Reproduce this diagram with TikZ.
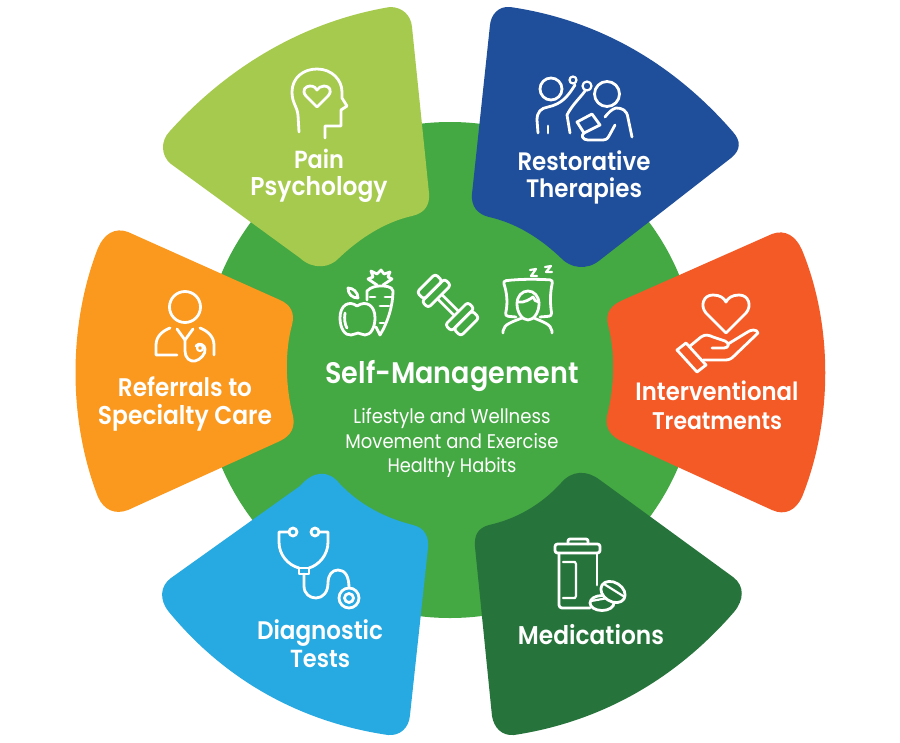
\documentclass[tikz,border=0pt]{standalone}
\usepackage{fontspec}
\setmainfont{Poppins}
\newfontfamily\hdfont{Poppins SemiBold}
\newfontfamily\subfont{Poppins}
\definecolor{cgreen}{HTML}{44A843}
\definecolor{clime}{HTML}{A6CA4E}
\definecolor{cblue}{HTML}{1F4E9A}
\definecolor{cred}{HTML}{F45A26}
\definecolor{corange}{HTML}{FB981E}
\definecolor{csky}{HTML}{27A9E1}
\definecolor{cdark}{HTML}{26743B}
\newcommand{\fitw}[2]{\scalebox{1}[1.1]{\resizebox{#1pt}{!}{#2}}}
\tikzset{
 icon/.style={draw=white,line width=2.8pt,line cap=round,line join=round},
 thin icon/.style={icon,line width=2.2pt},
 lbl/.style={text=white,inner sep=0pt,font=\hdfont\fontsize{23}{23}\selectfont,anchor=base},
 sub/.style={text=white,inner sep=0pt,font=\subfont\fontsize{18}{18}\selectfont,anchor=base}
}
\begin{document}
\begin{tikzpicture}[x=1pt,y=-1pt]
\useasboundingbox (0,0) rectangle (900,742);
\fill[white] (0,0) rectangle (900,742);
\fill[cgreen] (450,370) circle (248);
% petals
\fill[clime] (390,7) .. controls (402,7) and (411,15) .. (412,27) -- (429,193)
 .. controls (430,205) and (425,213) .. (412,216)
 .. controls (385,222) and (360,238) .. (339,258)
 .. controls (330,268) and (313,270) .. (300,258) -- (171,164)
 .. controls (161,156) and (160,141) .. (170,131)
 .. controls (225,70) and (300,22) .. (390,7) -- cycle;
\fill[cblue] (510,7) .. controls (498,6) and (491,15) .. (490,25) -- (472,194)
 .. controls (471,206) and (477,214) .. (489,217)
 .. controls (516,223) and (540,238) .. (561,258)
 .. controls (570,268) and (587,271) .. (600,260) -- (731,158)
 .. controls (741,150) and (741,141) .. (733,132)
 .. controls (675,65) and (600,20) .. (510,7) -- cycle;
\fill[cred] (772,234) .. controls (785,229) and (796,236) .. (802,250)
 .. controls (833,325) and (833,420) .. (802,497)
 .. controls (796,510) and (785,516) .. (772,510) -- (623,442)
 .. controls (610,436) and (605,428) .. (607,416)
 .. controls (615,385) and (615,350) .. (608,325)
 .. controls (605,313) and (611,305) .. (623,300) -- cycle;
\fill[corange] (128,232) .. controls (115,227) and (104,234) .. (98,248)
 .. controls (68,325) and (68,420) .. (98,497)
 .. controls (104,510) and (115,515) .. (128,510) -- (280,441)
 .. controls (292,435) and (295,427) .. (293,416)
 .. controls (285,385) and (285,350) .. (292,325)
 .. controls (295,313) and (291,305) .. (280,300) -- cycle;
\fill[csky] (300,486) .. controls (313,471) and (328,469) .. (340,484)
 .. controls (360,505) and (385,518) .. (413,525)
 .. controls (425,528) and (429,537) .. (428,548) -- (410,715)
 .. controls (409,728) and (400,736) .. (388,735)
 .. controls (300,722) and (225,680) .. (169,612)
 .. controls (159,600) and (160,586) .. (171,578) -- cycle;
\fill[cdark] (600,480) .. controls (587,470) and (572,470) .. (561,483)
 .. controls (541,505) and (516,519) .. (489,525)
 .. controls (478,528) and (474,535) .. (475,547) -- (492,716)
 .. controls (494,728) and (502,736) .. (514,735)
 .. controls (600,722) and (675,680) .. (734,612)
 .. controls (744,600) and (745,586) .. (733,577) -- cycle;
% labels
\node[lbl] (t1a) at (319,168) {\fitw{50}{Pain}};
\node[lbl] (t1b) at (319,195) {\fitw{137}{Psychology}};
\node[lbl] (t2a) at (584,170) {\fitw{133}{Restorative}};
\node[lbl] (t2b) at (584,197) {\fitw{116}{Therapies}};
\node[lbl] (t3a) at (717,400) {\fitw{163}{Interventional}};
\node[lbl] (t3b) at (717,429) {\fitw{130}{Treatments}};
\node[lbl] (t4a) at (185,396) {\fitw{134}{Referrals to}};
\node[lbl] (t4b) at (185,424) {\fitw{174}{Specialty Care}};
\node[lbl] (t5a) at (320,639) {\fitw{126}{Diagnostic}};
\node[lbl] (t5b) at (320,667) {\fitw{60}{Tests}};
\node[lbl] (t6) at (591,644) {\fitw{146}{Medications}};
\node[lbl] (t0) at (452,383) {\fitw{253}{Self-Management}};
\node[sub] (s1) at (452,423) {\fitw{197}{Lifestyle and Wellness}};
\node[sub] (s2) at (452,448) {\fitw{213}{Movement and Exercise}};
\node[sub] (s3) at (452,472) {\fitw{129}{Healthy Habits}};
% head
\draw[icon] (299,132) -- (298,115) .. controls (297,106) and (292,103) .. (292,92)
 .. controls (292,78) and (303,69) .. (317,69) .. controls (332,69) and (342,80) .. (342,92)
 -- (342,98) -- (347,106) -- (341,110) -- (341,126) -- (325,126) -- (325,138);
\draw[icon] (317,107) -- (306,96) .. controls (301,90) and (306,86) .. (310,86)
 .. controls (314,86) and (316,88) .. (317,90) .. controls (318,88) and (321,86) .. (324,86)
 .. controls (329,86) and (333,90) .. (328,96) -- cycle;
% restorative
\draw[icon] (551,89) circle (11);
\draw[icon] (607,94) circle (12.5);
\draw[thin icon] (573,80) circle (3.5) (587,86) circle (4.5);
\draw[icon] (538,133) -- (537,120) .. controls (537,112) and (541,108) .. (548,107)
 .. controls (562,104) and (568,96) .. (575,85);
\draw[icon] (570,133) -- (567,115) .. controls (572,105) and (580,98) .. (585,91);
\draw[icon] (548,126) -- (548,133);
\draw[icon] (632,137) -- (628,118) .. controls (627,110) and (622,108) .. (616,108) .. controls (612,109) and (608,113) .. (605,117);
\draw[icon] (577,122) -- (592,114) -- (600,125) -- (584,133) -- cycle;
\draw[icon] (615,125) -- (609,136) .. controls (607,140) and (605,140) .. (600,140) -- (588,140)
 .. controls (582,140) and (581,135) .. (584,133);
% hand and heart
\draw[icon] (726,333) -- (706,313) .. controls (700,306) and (703,295) .. (713,295)
 .. controls (720,295) and (724,298) .. (726,302) .. controls (728,298) and (732,295) .. (739,295)
 .. controls (749,295) and (752,306) .. (746,313) -- cycle;
\draw[icon] (677,350) -- (686,343) -- (706,365) -- (697,372) -- cycle;
\draw[icon] (690,346) -- (701,337) .. controls (705,334) and (709,335) .. (713,337)
 -- (725,341) .. controls (730,343) and (729,348) .. (724,348) -- (712,348);
\draw[icon] (728,344) -- (746,333) .. controls (751,329) and (757,329) .. (758,333)
 -- (734,356) .. controls (731,359) and (729,360) .. (725,360) -- (703,360);
% doctor
\draw[icon] (185,307) circle (15.5);
\draw[icon] (170,328) .. controls (162,331) and (156,337) .. (156,345) -- (156,355) -- (177,355);
\draw[icon] (200,328) .. controls (208,331) and (214,337) .. (214,345) -- (214,355);
\draw[icon] (177,329) -- (185,340) -- (193,329);
\draw[icon] (185,340) -- (185,351) .. controls (185,358) and (190,362) .. (195,361)
 .. controls (200,360) and (206,354) .. (205,349) .. controls (205,345) and (199,342) .. (196,346);
\draw[thin icon] (200,348) circle (3);
% stethoscope
\draw[icon] (293,532) circle (4) (315,532) circle (4);
\draw[icon] (288,532) -- (279,532) -- (279,542) .. controls (279,555) and (288,565) .. (299,568);
\draw[icon] (320,532) -- (328,532) -- (328,542) .. controls (328,555) and (319,565) .. (309,568);
\draw[icon] (299,568) -- (309,568) -- (309,574) -- (299,574) -- cycle;
\draw[icon] (304,574) -- (304,586) .. controls (304,594) and (310,598) .. (316,598)
 .. controls (323,598) and (328,592) .. (328,583) .. controls (328,575) and (332,570) .. (338,570)
 .. controls (345,570) and (349,576) .. (349,588);
\draw[icon] (349,598) circle (10) (349,598) circle (4.5);
% medication
\draw[icon,rounded corners=2.5pt] (555,544) rectangle (600,553);
\draw[icon,rounded corners=2pt] (568,544) -- (568,539) -- (588,539) -- (588,544);
\draw[icon,rounded corners=2pt] (597,553) -- (597,585);
\draw[icon,rounded corners=3pt] (559,553) -- (559,608) -- (590,608);
\draw[thin icon] (563,562) -- (575,562) -- (576,564) -- (576,596) -- (575,598) -- (563,598);
\draw[icon] (602,603) ellipse (12 and 7.5);
\draw[thin icon] (591,601) -- (608,598);
\draw[icon,fill=cdark,rotate around={-32:(613,592)}] (613,592) ellipse (13 and 9.5);
\draw[thin icon,rotate around={-32:(613,592)}] (601,590) -- (625,590);
% apple
\draw[icon] (357,306) .. controls (349,300) and (340,305) .. (340,318) .. controls (340,328) and (345,336) .. (351,335)
 .. controls (354,335) and (356,333) .. (358,333) .. controls (360,333) and (362,335) .. (365,335)
 .. controls (371,335) and (375,327) .. (375,318) .. controls (375,305) and (366,300) .. (357,306);
\draw[icon] (345,313) .. controls (344,319) and (345,325) .. (347,328);
\draw[icon] (348,288) .. controls (353,288) and (358,292) .. (358,298) .. controls (352,298) and (348,294) .. (348,288) -- cycle;
% carrot
\draw[icon] (367,300) -- (367,291) .. controls (371,287) and (376,286) .. (380,286)
 .. controls (385,286) and (392,286) .. (393,291) .. controls (393,305) and (388,322) .. (380,335) -- (376,327);
\draw[icon] (377,285) -- (368,279) -- (373,277) -- (371,271) -- (377,274) -- (381,270) -- (384,274) -- (390,272) -- (388,277) -- (392,279) -- (383,285);
\draw[icon] (370,297) -- (375,297) (392,297) -- (385,297) (380,306) -- (389,306) (380,323) -- (384,323);
% dumbbell
\begin{scope}[shift={(448,305)},rotate=-45]
\draw[icon] (-11,-3) -- (11,-3) (-11,3) -- (11,3);
\draw[icon,rounded corners=3pt] (12,-16) rectangle (21,16);
\draw[icon,rounded corners=3pt] (21,-13) rectangle (31,13);
\draw[icon,rounded corners=3pt] (-21,-16) rectangle (-12,16);
\draw[icon,rounded corners=3pt] (-31,-13) rectangle (-21,13);
\end{scope}
% sleep
\draw[icon,rounded corners=3pt] (516,317) -- (505,316) .. controls (508,303) and (507,293) .. (503,281)
 .. controls (520,279) and (535,279) .. (553,280) .. controls (550,293) and (550,303) .. (552,316) -- (540,317);
\draw[icon] (517,304) .. controls (517,296) and (522,291) .. (528,291) .. controls (534,291) and (539,296) .. (539,304)
 .. controls (539,312) and (534,320) .. (528,320) .. controls (522,320) and (517,312) .. (517,304);
\draw[icon] (518,302) .. controls (525,303) and (530,299) .. (533,297) .. controls (534,300) and (536,302) .. (539,302);
\draw[icon] (503,333) -- (503,331) .. controls (504,324) and (512,322) .. (522,318);
\draw[icon] (552,333) -- (552,331) .. controls (551,324) and (543,322) .. (534,318);
\draw[thin icon] (530,270) -- (536,269) -- (531,276) -- (537,276);
\draw[thin icon] (545,267) -- (551,266) -- (546,272) -- (552,272);
\end{tikzpicture}
\end{document}
